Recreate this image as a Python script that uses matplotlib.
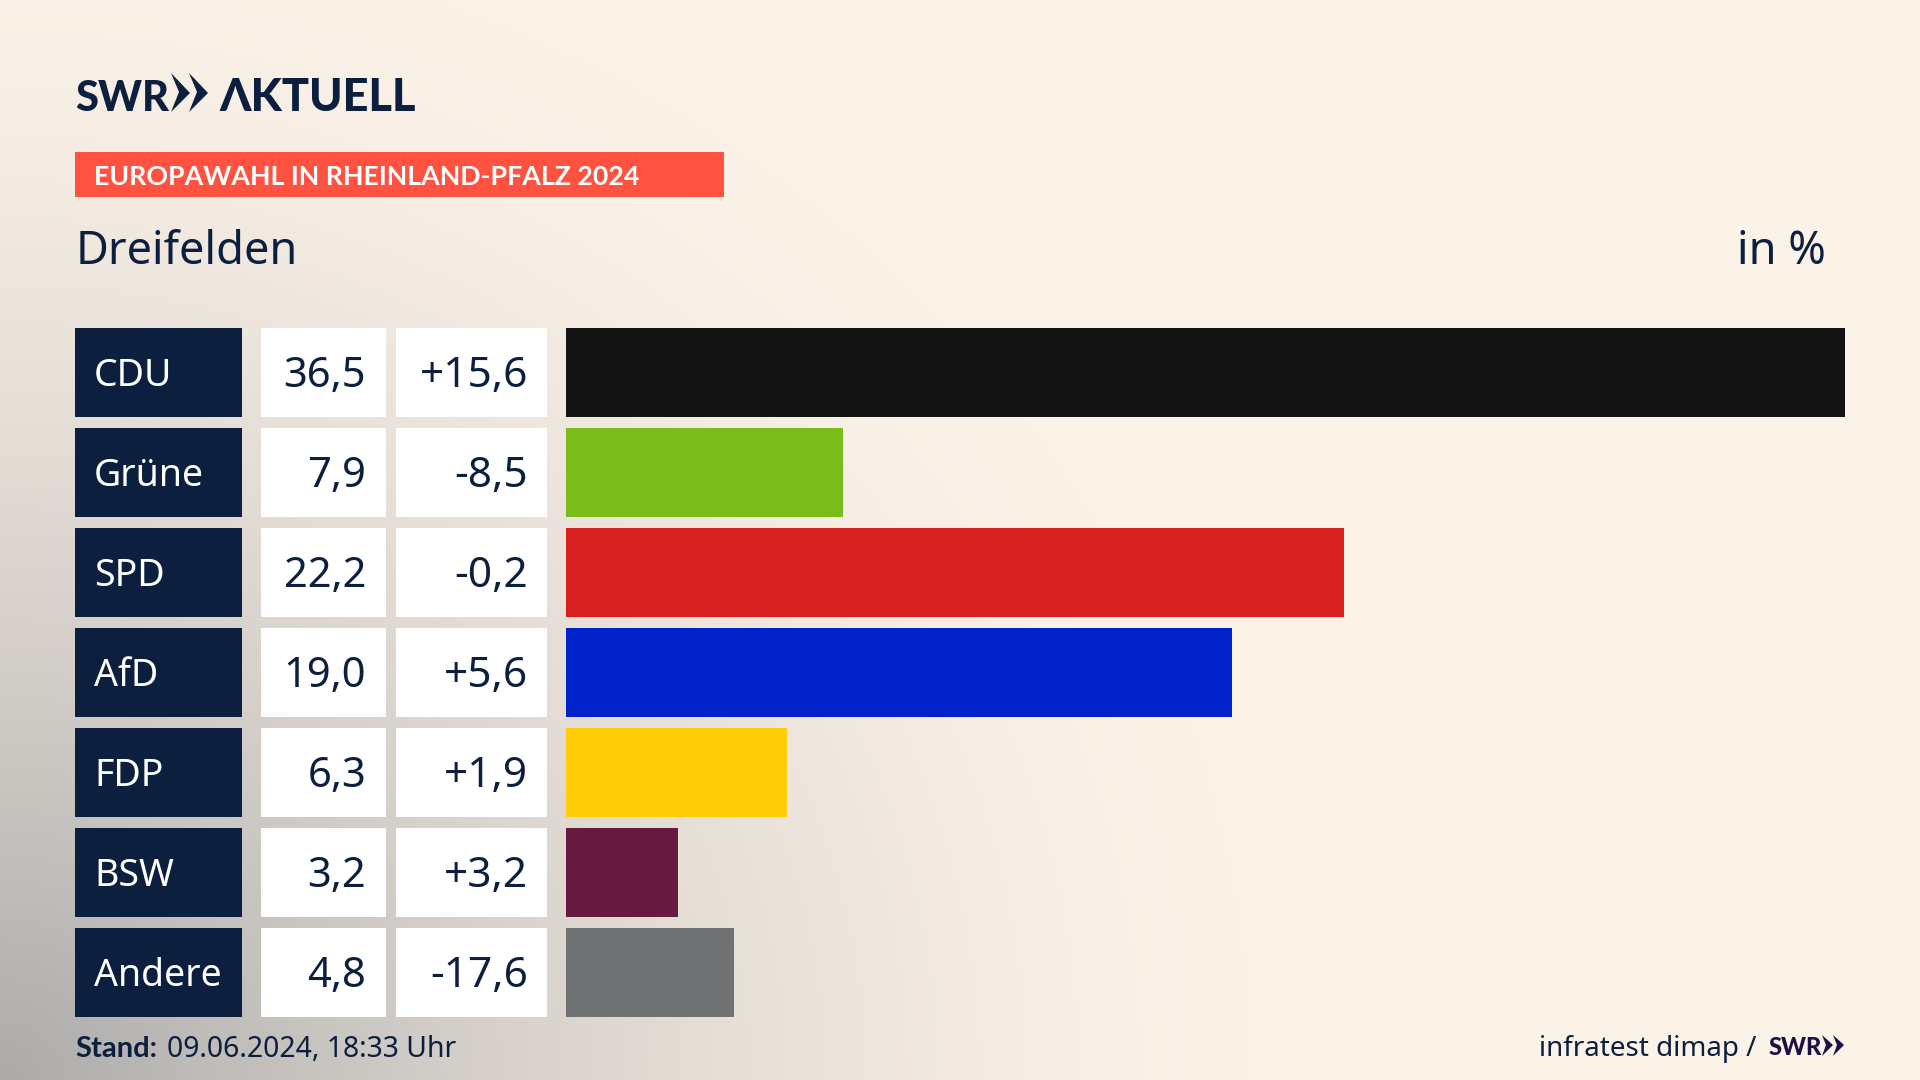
import numpy as np
import matplotlib
matplotlib.use("Agg")
import matplotlib.pyplot as plt
from matplotlib.patches import Polygon, Rectangle

parties = ["CDU", "Grüne", "SPD", "AfD", "FDP", "BSW", "Andere"]
shares = [36.5, 7.9, 22.2, 19.0, 6.3, 3.2, 4.8]
changes = ["+15,6", "-8,5", "-0,2", "+5,6", "+1,9", "+3,2", "-17,6"]
bar_colors = ["#141414", "#7ABD1A", "#D7201E", "#0022C8", "#FFCE08", "#661A3D", "#707173"]

NAVY = "#0C1F3F"
W, H = 1920, 1080
FONT = ["Noto Sans", "DejaVu Sans"]
BOLD = ["Lato", "DejaVu Sans"]

fig = plt.figure(figsize=(W / 100, H / 100), dpi=100)

# page in pixel coords, y down
page = fig.add_axes([0, 0, 1, 1])
page.set_xlim(0, W)
page.set_ylim(H, 0)
page.axis("off")

# grey shade coming out of the lower left corner
yy, xx = np.mgrid[0:H:270j, 0:W:480j]
dist = np.sqrt((xx / 1250) ** 2 + ((H - yy) / 1150) ** 2)
shade = np.clip(1 - dist, 0, 1) ** 1.5
cream = np.array([251, 242, 232]) / 255
grey = np.array([172, 171, 170]) / 255
bg = cream + (grey - cream) * shade[..., None]
page.imshow(bg, extent=(0, W, H, 0), aspect="auto", interpolation="bilinear", zorder=0)
page.set_xlim(0, W)
page.set_ylim(H, 0)

# header
page.text(75, 111, "SWR", fontsize=30, fontweight="black", family=BOLD, color=NAVY, va="baseline")
page.text(219, 111, "ΛKTUELL", fontsize=32.5, fontweight="black", family=BOLD, color=NAVY, va="baseline")
for x0 in (171, 189):
    page.add_patch(Polygon([(x0, 112), (x0 + 8, 92), (x0, 73), (x0 + 19, 93)], closed=True, fc=NAVY, ec="none", zorder=3))

page.add_patch(Rectangle((75, 152), 649, 45, fc="#FF5240", ec="none", zorder=2))
page.text(94, 185, "EUROPAWAHL IN RHEINLAND-PFALZ 2024", fontsize=19.3, fontweight="bold", family=BOLD, color="white", va="baseline", zorder=3)

page.text(76, 264, "Dreifelden", fontsize=32.5, family=FONT, color=NAVY, va="baseline")
page.text(1826, 264, "in %", fontsize=32.5, family=FONT, color=NAVY, va="baseline", ha="right")

# rows
for i, party in enumerate(parties):
    top = 328 + 100 * i
    page.add_patch(Rectangle((75, top), 167, 89, fc=NAVY, ec="none", zorder=2))
    page.add_patch(Rectangle((261, top), 125, 89, fc="white", ec="none", zorder=2))
    page.add_patch(Rectangle((396, top), 151, 89, fc="white", ec="none", zorder=2))
    base = top + 58
    page.text(94, base, party, fontsize=27, family=FONT, color="white", va="baseline", zorder=3)
    page.text(366, base + 1, f"{shares[i]:.1f}".replace(".", ","), fontsize=30, family=FONT, color=NAVY, va="baseline", ha="right", zorder=3)
    page.text(528, base + 1, changes[i], fontsize=30.5, family=FONT, color=NAVY, va="baseline", ha="right", zorder=3)

# bars, axes runs from the bar start to the end of the longest bar
ax = fig.add_axes([566 / W, 1 - 1022 / H, (1845 - 566) / W, 700 / H])
ax.barh(range(len(parties)), shares, height=0.89, color=bar_colors)
ax.set_xlim(0, max(shares))
ax.set_ylim(len(parties) - 0.5, -0.5)
ax.axis("off")

# footer
page.text(75, 1057, "Stand:", fontsize=21, fontweight="bold", family=BOLD, color=NAVY, va="baseline")
page.text(167, 1057, "09.06.2024, 18:33 Uhr", fontsize=20.4, family=FONT, color=NAVY, va="baseline")
page.text(1539, 1056, "infratest dimap /", fontsize=20, family=FONT, color=NAVY, va="baseline")
page.text(1769, 1055, "SWR", fontsize=17, fontweight="black", family=BOLD, color="#1E0F45", va="baseline")
for x0 in (1822, 1833):
    page.add_patch(Polygon([(x0, 1056), (x0 + 4, 1045), (x0, 1035), (x0 + 11, 1045)], closed=True, fc="#1E0F45", ec="none", zorder=3))

fig.savefig("out.png", dpi=100)
